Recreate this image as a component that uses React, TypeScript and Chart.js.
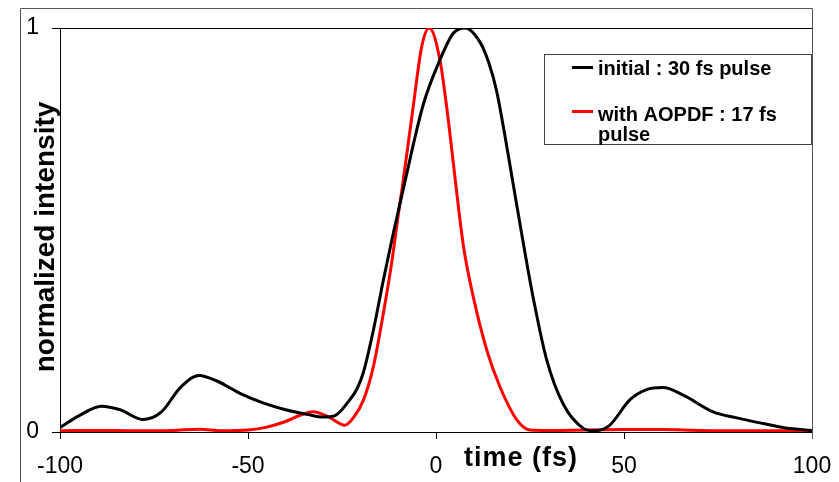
import React, { useEffect, useRef } from "react";
import { Chart, registerables } from "chart.js";

Chart.register(...registerables);

// Time axis (fs) and normalized intensity values
const initialTimes = [
  -100, -95, -89, -84, -78, -73, -68, -63, -58, -52, -46, -40, -34, -30, -27,
  -23, -21, -19.3, -16.7, -14, -11.4, -8.5, -3.4, 1, 4.6, 7.7, 11.7, 14, 16.1,
  18.3, 20.5, 22.8, 25.9, 29.4, 33.9, 39.2, 42, 46, 51.6, 56, 60.4, 66, 73.7, 80,
  87, 93, 100,
];
const initialValues = [
  0.011, 0.04, 0.064, 0.055, 0.031, 0.05, 0.11, 0.14, 0.125, 0.095, 0.072,
  0.055, 0.043, 0.037, 0.04, 0.079, 0.107, 0.148, 0.25, 0.376, 0.49, 0.61, 0.81,
  0.92, 0.987, 1.0, 0.965, 0.915, 0.845, 0.735, 0.615, 0.49, 0.33, 0.18, 0.068,
  0.009, 0.003, 0.015, 0.08, 0.105, 0.11, 0.09, 0.05, 0.035, 0.021, 0.01, 0.004,
];

const aopdfTimes = [
  -100, -90, -80, -70, -63, -57, -50, -45, -40, -36, -32.6, -28.5, -24.2, -22,
  -19.3, -16.7, -14, -11.8, -10, -8.9, -6, -3.8, -1.8, 1.06, 3.3, 5.3, 7.3, 9.9,
  13.5, 17, 21.5, 25, 30, 40, 50, 60, 70, 80, 90, 100,
];
const aopdfValues = [
  0.003, 0.004, 0.003, 0.004, 0.007, 0.003, 0.005, 0.012, 0.026, 0.042, 0.05,
  0.037, 0.017, 0.035, 0.079, 0.16, 0.294, 0.418, 0.54, 0.61, 0.81, 0.954, 1.0,
  0.92, 0.77, 0.61, 0.46, 0.335, 0.203, 0.112, 0.03, 0.005, 0.004, 0.005, 0.006,
  0.006, 0.004, 0.003, 0.003, 0.003,
];

const seriesLabels = ["initial : 30 fs pulse", "with AOPDF : 17 fs", "pulse"];
const xTitle = "time (fs)";
const yTitle = "normalized intensity";
const xTicks = [-100, -50, 0, 50, 100];
const yTicks = [0, 1];

const FONT = "'Liberation Sans', Arial, sans-serif";

const decorPlugin = {
  id: "decor",
  afterDraw(chart: any) {
    const ctx = chart.ctx;
    const area = chart.chartArea;
    ctx.save();
    // outer frame
    ctx.strokeStyle = "#555";
    ctx.lineWidth = 1;
    ctx.beginPath();
    ctx.moveTo(20.5, 482);
    ctx.lineTo(20.5, 8.5);
    ctx.lineTo(Math.round(area.right) + 0.5, 8.5);
    ctx.lineTo(Math.round(area.right) + 0.5, 439);
    ctx.stroke();

    ctx.fillStyle = "#000";
    // x title
    ctx.font = `bold 27px ${FONT}`;
    (ctx as any).letterSpacing = "1px";
    ctx.textAlign = "center";
    ctx.textBaseline = "alphabetic";
    ctx.fillText(xTitle, 521, 466);
    (ctx as any).letterSpacing = "0px";

    // y title
    ctx.save();
    ctx.translate(54, 237);
    ctx.rotate(-Math.PI / 2);
    ctx.font = `bold 28px ${FONT}`;
    ctx.textAlign = "center";
    ctx.textBaseline = "alphabetic";
    ctx.fillText(yTitle, 0, 0);
    ctx.restore();

    // legend
    ctx.fillStyle = "#fff";
    ctx.fillRect(544.5, 54.5, 267, 90);
    ctx.strokeStyle = "#404040";
    ctx.lineWidth = 1;
    ctx.strokeRect(544.5, 54.5, 267, 90);
    ctx.lineWidth = 3;
    ctx.strokeStyle = "#000";
    ctx.beginPath();
    ctx.moveTo(572, 67.5);
    ctx.lineTo(593, 67.5);
    ctx.stroke();
    ctx.strokeStyle = "#ff0000";
    ctx.beginPath();
    ctx.moveTo(572, 111.5);
    ctx.lineTo(593, 111.5);
    ctx.stroke();
    ctx.fillStyle = "#000";
    ctx.font = `bold 20px ${FONT}`;
    ctx.textAlign = "left";
    ctx.fillText(seriesLabels[0], 598, 75);
    ctx.fillText(seriesLabels[1], 598, 121);
    ctx.fillText(seriesLabels[2], 598, 141);
    ctx.restore();
  },
};

export default function App() {
  const canvasRef = useRef<HTMLCanvasElement>(null);

  useEffect(() => {
    const canvas = canvasRef.current;
    if (!canvas) return;
    const chart = new Chart(canvas, {
      type: "line",
      data: {
        datasets: [
          {
            label: seriesLabels[0],
            data: initialTimes.map((t, i) => ({ x: t, y: initialValues[i] })),
            borderColor: "#000000",
            borderWidth: 3,
            pointRadius: 0,
            fill: false,
            cubicInterpolationMode: "monotone",
          },
          {
            label: seriesLabels[1] + " " + seriesLabels[2],
            data: aopdfTimes.map((t, i) => ({ x: t, y: aopdfValues[i] })),
            borderColor: "#ff0000",
            borderWidth: 3,
            pointRadius: 0,
            fill: false,
            cubicInterpolationMode: "monotone",
          },
        ],
      },
      options: {
        animation: false,
        responsive: false,
        maintainAspectRatio: false,
        layout: { padding: { left: 0, top: 28, right: 27, bottom: 0 } },
        plugins: {
          legend: { display: false },
          tooltip: { enabled: false },
          title: { display: false },
        },
        scales: {
          x: {
            type: "linear",
            min: -100,
            max: 100,
            afterBuildTicks: (scale: any) => {
              scale.ticks = xTicks.map((v) => ({ value: v }));
            },
            afterFit: (scale: any) => {
              scale.height = 50;
              scale.paddingLeft = 0;
              scale.paddingRight = 0;
            },
            ticks: {
              color: "#000",
              font: { family: FONT, size: 23 },
              padding: 14,
              maxRotation: 0,
              autoSkip: false,
            },
            grid: {
              drawOnChartArea: false,
              drawTicks: true,
              tickLength: 7,
              color: "#000",
            },
            border: { display: true, color: "#000", width: 1 },
          },
          y: {
            type: "linear",
            min: 0,
            max: 1,
            afterBuildTicks: (scale: any) => {
              scale.ticks = yTicks.map((v) => ({ value: v }));
            },
            afterFit: (scale: any) => {
              scale.width = 60;
              scale.paddingTop = 0;
              scale.paddingBottom = 0;
            },
            ticks: {
              color: "#000",
              font: { family: FONT, size: 23 },
              padding: 13,
            },
            grid: {
              drawOnChartArea: true,
              drawTicks: true,
              tickLength: 8,
              color: "#000",
            },
            border: { display: true, color: "#000", width: 1 },
          },
        },
      },
      plugins: [decorPlugin],
    });
    return () => chart.destroy();
  }, []);

  return (
    <div style={{ position: "absolute", left: 0, top: 0, width: 839, height: 482, background: "#fff" }}>
      <canvas ref={canvasRef} width={839} height={482} style={{ display: "block", width: 839, height: 482 }} />
    </div>
  );
}
